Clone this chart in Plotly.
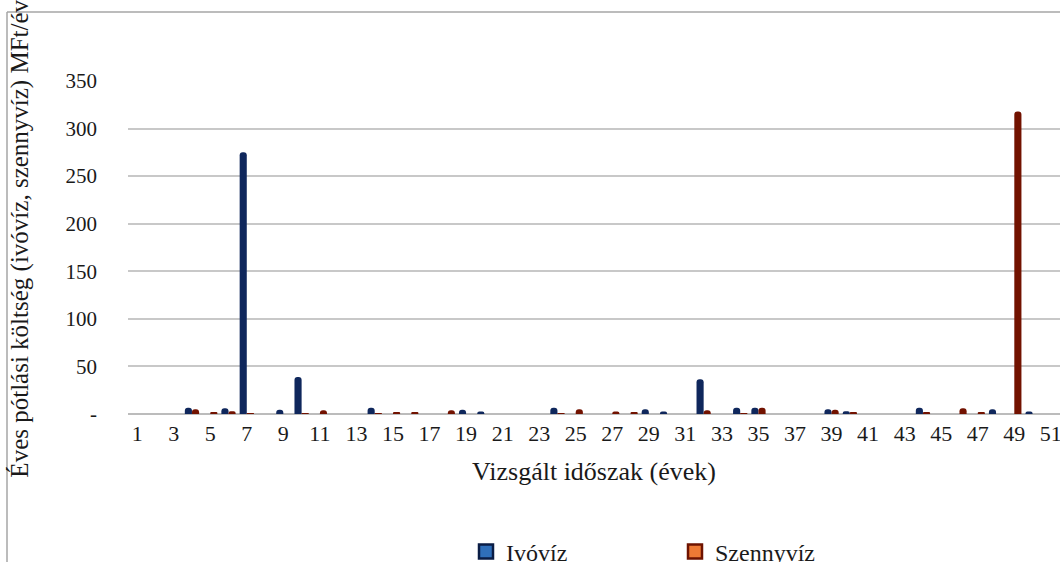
import plotly.graph_objects as go

years = list(range(1, 52))

ivoviz = [0, 0, 0, 6.5, 0, 6, 275, 0, 4.5, 39,
          0, 0, 0, 6.5, 0, 0, 0, 0, 4.5, 2.5,
          0, 0, 0, 6.5, 0, 0, 0, 0, 5, 2.5,
          0, 36.5, 0, 6.5, 6.5, 0, 0, 0, 5, 3,
          0, 0, 0, 6.5, 0, 0, 0, 5, 0, 2.5,
          0]

szennyviz = [0, 0, 0, 5, 1.5, 3, 0.5, 0, 0, 1,
             4, 0, 0, 1, 1.5, 1.5, 0, 4, 0, 0,
             0, 0, 0, 1, 5, 0, 2.5, 2, 0, 0,
             0, 4, 0, 1, 6.5, 0, 0, 0, 4.5, 2,
             0, 0, 0, 1.5, 0, 6, 1.5, 0, 318, 0,
             0]

x_tick_vals = list(range(1, 52, 2))
x_tick_text = [str(v) for v in x_tick_vals]
y_tick_vals = [0, 50, 100, 150, 200, 250, 300, 350]
y_tick_text = ["-", "50", "100", "150", "200", "250", "300", "350"]

series_names = ["Ivóvíz", "Szennyvíz"]

FONT = "Liberation Serif"
TXT = "#1a1a1a"

fig = go.Figure()
fig.add_trace(go.Bar(
    x=years, y=ivoviz, name=series_names[0], showlegend=False,
    marker=dict(color="#0f275c", line=dict(width=0), cornerradius=3),
))
fig.add_trace(go.Bar(
    x=years, y=szennyviz, name=series_names[1], showlegend=False,
    marker=dict(color="#721200", line=dict(width=0), cornerradius=3),
))
# legend entries
fig.add_trace(go.Scatter(
    x=[None], y=[None], mode="markers", name=series_names[0],
    marker=dict(symbol="square", size=14, color="#2f6fba", line=dict(color="#0a1d45", width=2.5)),
))
fig.add_trace(go.Scatter(
    x=[None], y=[None], mode="markers", name=series_names[1],
    marker=dict(symbol="square", size=14, color="#ee7a35", line=dict(color="#6e1300", width=2.5)),
))

W, H = 1060, 562
L, T, PW, PB = 128, 81, 1060, 414.3
ph = PB - T
pw = PW - L

def px(xp):
    return (xp - L) / pw

def py(yp):
    return (PB - yp) / ph

fig.update_layout(
    width=W, height=H,
    margin=dict(l=L, r=0, t=T, b=H - PB, autoexpand=False),
    paper_bgcolor="white", plot_bgcolor="white",
    barmode="group", bargap=0.22, bargroupgap=0,
    font=dict(family=FONT, color=TXT),
    xaxis=dict(
        range=[0.5, 51.5], tickmode="array", tickvals=x_tick_vals, ticktext=x_tick_text,
        showgrid=False, zeroline=False, showline=False, ticks="", automargin=False,
        tickfont=dict(size=22, family=FONT, color=TXT),
        ticklabelstandoff=4, ticklabeloverflow="allow",
        title=dict(text="Vizsgált időszak (évek)", font=dict(size=26, family=FONT, color=TXT), standoff=16),
    ),
    yaxis=dict(
        range=[0, 350], tickmode="array", tickvals=y_tick_vals, ticktext=y_tick_text,
        showgrid=True, gridcolor="#c8c8c8", gridwidth=1.5,
        zeroline=True, zerolinecolor="#bcbcbc", zerolinewidth=2,
        showline=False, ticks="", automargin=False,
        tickfont=dict(size=21, family=FONT, color=TXT),
        ticklabelstandoff=30,
    ),
    legend=dict(
        orientation="h", xref="container", yref="container",
        x=466 / W, xanchor="left", y=1 - 552 / H, yanchor="middle",
        font=dict(size=24, family=FONT, color=TXT),
        entrywidth=164, entrywidthmode="pixels", itemwidth=30,
        bgcolor="rgba(0,0,0,0)",
    ),
    annotations=[dict(
        text="Éves pótlási költség (ivóvíz, szennyvíz) MFt/év",
        textangle=-90, xref="paper", yref="paper",
        x=px(20), y=py(480), xanchor="center", yanchor="bottom",
        showarrow=False, font=dict(size=25, family=FONT, color=TXT),
    )],
    shapes=[
        dict(type="line", xref="paper", yref="paper", x0=px(7), x1=px(7), y0=py(12), y1=py(600),
             line=dict(color="#a6a6a6", width=1.5)),
        dict(type="line", xref="paper", yref="paper", x0=px(7), x1=px(1100), y0=py(12), y1=py(12),
             line=dict(color="#a6a6a6", width=1.5)),
    ],
)

fig.write_html(
    "out.html",
    config={"displayModeBar": False},
    post_script="document.body.style.margin='0';document.body.style.overflow='hidden';",
)
